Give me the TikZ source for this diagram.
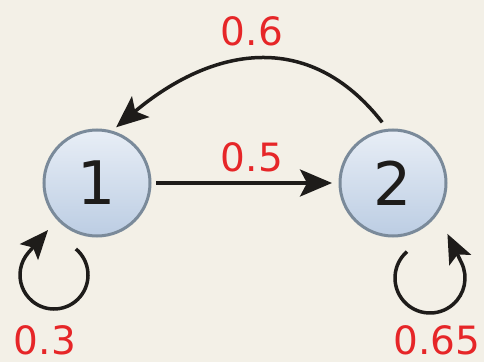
\documentclass[tikz,border=0pt]{standalone}
\usepackage{fontspec}
\usepackage{xcolor}
\usepackage{tikz}
\usetikzlibrary{arrows.meta, positioning, calc}

\newfontfamily\diagfont{DejaVu Sans}
\definecolor{bgcream}{RGB}{243,240,231}
\definecolor{labelred}{RGB}{230,38,40}
\definecolor{stateedge}{RGB}{122,138,154}
\definecolor{statetop}{RGB}{232,238,246}
\definecolor{statebot}{RGB}{188,205,227}
\definecolor{arrowdark}{RGB}{30,28,26}

\begin{document}
\begin{tikzpicture}[
    x=1pt, y=1pt,
    state/.style={draw=stateedge, line width=3pt, circle, minimum size=106pt, inner sep=0pt, outer sep=0pt,
        top color=statetop, bottom color=statebot, font=\diagfont\fontsize{60}{60}\selectfont, text=arrowdark},
    prob/.style={font=\diagfont\fontsize{39}{39}\selectfont, text=labelred, inner sep=0pt},
    flow/.style={draw=arrowdark, line width=3.5pt, -{Stealth[length=32pt, width=27pt, inset=7pt]}},
    loopflow/.style={draw=arrowdark, line width=3.5pt, -{Stealth[length=29pt, width=24pt, inset=6pt]}}
]

% Background
\fill[bgcream] (0,0) rectangle (484,362);
\useasboundingbox (0,0) rectangle (484,362);

% States
\node[state] (s1) at (97, 179) {1};
\node[state] (s2) at (393, 179) {2};

% Loop centres
\coordinate (c1) at ($(s1)+(-43,-92)$);
\coordinate (c2) at ($(s2)+(37,-95)$);

% Arrows
\draw[flow, shorten <=6pt, shorten >=8pt] (s1) -- (s2);
\draw[flow, shorten <=10pt, shorten >=7pt] (s2.95) to[out=128, in=40, looseness=1.2] (s1.75);
\draw[loopflow] ($(c1)+(50:34)$) arc[start angle=50, end angle=-221, radius=34] -- ++(49:30);
\draw[loopflow] ($(c2)+(131:35)$) arc[start angle=131, end angle=386, radius=35] -- ++(116:32);

% Probabilities
\node[prob] (p12) at (252, 205) {0.5};
\node[prob] (p21) at (252, 331) {0.6};
\node[prob] (p11) at (45, 22) {0.3};
\node[prob] (p22) at (437, 22) {0.65};

\end{tikzpicture}
\end{document}
